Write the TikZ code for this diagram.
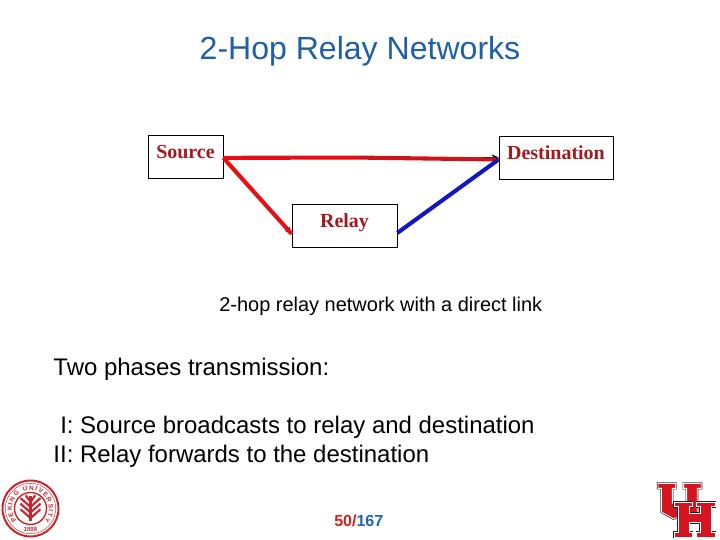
\documentclass[tikz,border=0pt]{standalone}
\usepackage{fontspec}
\setmainfont{Liberation Sans}
\newfontfamily\boxfont{Liberation Serif}
\usetikzlibrary{arrows.meta, calc, positioning, decorations.text}
\definecolor{cblue}{HTML}{1F5FA8}
\definecolor{cboxred}{HTML}{A31A1E}
\definecolor{clinkred}{HTML}{E60F14}
\definecolor{clinkdark}{HTML}{CC1518}
\definecolor{clinkblue}{HTML}{1216C4}
\definecolor{cpagered}{HTML}{CC2222}
\definecolor{cpageblue}{HTML}{1F66B0}
\definecolor{cseal}{HTML}{C9232B}
\definecolor{cuhred}{HTML}{D4141E}
\definecolor{cuhdark}{HTML}{2A1A22}
\tikzset{
  hopbox/.style={draw, line width=0.5pt, inner xsep=0pt, inner ysep=0pt,
    text=cboxred, font=\boxfont\bfseries\fontsize{14.2}{16}\selectfont,
    text height=0.59cm, text depth=0.485cm},
  bodytext/.style={anchor=base west, inner sep=0pt, font=\fontsize{17.05}{20}\selectfont},
  hoplink/.style={line width=2.9pt},
  uhletter/.style={fill=cuhred, draw=white, line width=0.6pt, line join=miter,
    preaction={draw=cuhdark, line width=1.5pt}}
}

\begin{document}
\begin{tikzpicture}
\useasboundingbox (0, 0) rectangle (18, 13.5);

% Headline
\node[cblue, anchor=base, inner sep=0pt, font=\fontsize{22.8}{26}\selectfont] (title) at (9.0, 12.01)
  {2-Hop Relay Networks};

% ============================================================
% The three terminals
\node[hopbox, minimum width=1.875cm] (source) at (4.6375, 9.5875) {Source};
\node[hopbox, minimum width=2.85cm] (destination) at (13.9, 9.5625) {Destination};
\node[hopbox, minimum width=2.625cm] (relay) at (8.6125, 7.8625) {Relay};

% Thin arrows under the coloured strokes
\draw[-{Stealth[length=5pt, width=4.5pt]}, line width=0.4pt] (source.-2) -- (destination.west);
\draw[-{Stealth[length=5pt, width=4.5pt]}, line width=0.4pt] (source.-2) -- (relay.189);

% Direct link: two strokes that meet half way
\coordinate (midlink) at (9.0, 9.56);
\draw[hoplink, clinkred] (source.-2) -- (midlink);
\draw[hoplink, clinkdark] (midlink) -- (destination.182);
% Source to relay, relay to destination
\draw[hoplink, clinkred] (source.-2) -- (relay.189);
\draw[hoplink, clinkblue] (relay.-8) -- (destination.182);

% Caption under the diagram
\node[anchor=base, inner sep=0pt, font=\fontsize{14.2}{17}\selectfont] (caption) at (9.52, 5.72)
  {2-hop relay network with a direct link};

% ============================================================
% Phases
\node[bodytext] (phases) at (1.33, 4.11) {Two phases transmission:};
\node[bodytext] (phaseone) at (1.5, 2.655) {I: Source broadcasts to relay and destination};
\node[bodytext] (phasetwo) at (1.33, 1.95) {II: Relay forwards to the destination};

% Page number
\node[anchor=base west, inner sep=0pt, font=\bfseries\fontsize{11.4}{14}\selectfont] (pagenum) at (8.35, 0.33)
  {\textcolor{cpagered}{50/}\textcolor{cpageblue}{167}};

% ============================================================
% Left seal
\begin{scope}[shift={(0.7625, 0.7875)}, cseal]
  \draw[line width=1.4pt] (0, 0) circle (0.70);
  \draw[line width=0.3pt] (0, 0) circle (0.63);
  \draw[line width=1pt] (0, 0) circle (0.40);
  \path[decorate, decoration={text along path, text align={fit to path},
      text={|\fontsize{4.6}{5}\selectfont\bfseries\color{cseal}|PEKING UNIVERSITY}}]
    (222:0.46) arc (222:-42:0.46);
  \node[inner sep=0pt, font=\bfseries\fontsize{4.2}{5}\selectfont] (sealyear) at (0, -0.52) {1898};
  % Tree: trunk with stacked chevrons
  \fill (-0.04, -0.32) rectangle (0.04, 0.32);
  \foreach \yy in {-0.16, -0.02, 0.12}
    \draw[line width=1.5pt] (-0.25, \yy + 0.14) -- (0, \yy - 0.08) -- (0.25, \yy + 0.14);
  \draw[line width=1.5pt] (-0.12, 0.33) -- (0, 0.16) -- (0.12, 0.33);
\end{scope}

% Right logo, drawn in 1/3 pixel units
\begin{scope}[shift={(16, 1.75)}, x=0.00833cm, y=-0.00833cm]
  % U
  \filldraw[uhletter] (54,40) -- (107,40) -- (107,55) -- (97,55) -- (97,100) -- (140,100)
    -- (140,55) -- (131,55) -- (131,40) -- (184,40) -- (184,55) -- (172,55) -- (172,128)
    -- (100,146) -- (64,126) -- (64,55) -- (54,55) -- cycle;
  % H
  \filldraw[uhletter] (103,97) -- (157,97) -- (157,110) -- (147,110) -- (147,130) -- (180,130)
    -- (180,110) -- (170,110) -- (170,97) -- (226,97) -- (226,110) -- (214,110) -- (214,186)
    -- (226,186) -- (226,201) -- (170,201) -- (170,186) -- (180,186) -- (180,158) -- (147,158)
    -- (147,186) -- (157,186) -- (157,201) -- (103,201) -- (103,186) -- (114,186) -- (114,110)
    -- (103,110) -- cycle;
\end{scope}

\end{tikzpicture}
\end{document}
